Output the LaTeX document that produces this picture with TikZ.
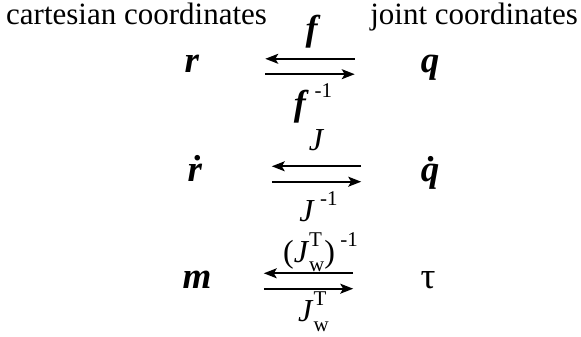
\documentclass[tikz,border=0pt]{standalone}
\usepackage{fontspec}
\setmainfont{Liberation Serif}
\usetikzlibrary{arrows.meta,positioning}

\newcommand{\bsym}[1]{\textbf{\textit{#1}}}
\newcommand{\upidx}[1]{\raisebox{0.5em}{\fontsize{21}{21}\selectfont #1}}
\newcommand{\JwT}{\textit{J}\rlap{\raisebox{0.5em}{\fontsize{21}{21}\selectfont T}}\raisebox{-0.3em}{\fontsize{21}{21}\selectfont w}}

\begin{document}
\begin{tikzpicture}[x=1pt, y=-1pt, >={Stealth[length=13pt,width=10pt,inset=3pt]},
  head/.style={font=\fontsize{31}{33}\selectfont, inner sep=0pt},
  lbl/.style={font=\fontsize{32}{34}\selectfont, inner sep=0pt, anchor=base},
  sym/.style={font=\fontsize{37}{39}\selectfont, anchor=base},
  pair/.style={minimum width=89pt, minimum height=15pt, inner sep=0pt},
  arr/.style={line width=1.7pt}]
  \useasboundingbox (0,0) rectangle (581,337);
  % headings
  \node[head, anchor=base west] (cart) at (6,25) {cartesian coordinates};
  \node[head, anchor=base east] (joint) at (578,25) {joint coordinates};
  % position level
  \node[pair] (p1) at (310,66.5) {};
  \node[sym] (r) at (192,73) {\bsym{r}};
  \node[sym] (q) at (430,73) {\bsym{q}};
  \draw[arr,->] (p1.north east) -- (p1.north west) node[midway,lbl,yshift=18pt,xshift=3pt] (f) {\fontsize{36}{38}\selectfont\bsym{f}};
  \draw[arr,->] (p1.south west) -- (p1.south east) node[midway,lbl,yshift=-41pt,xshift=3pt] (finv) {\fontsize{36}{38}\selectfont\bsym{f}\,\upidx{-1}};
  % velocity level
  \node[pair] (p2) at (316.5,174) {};
  \node[sym] (rd) at (195,181) {\bsym{\.r}};
  \node[sym] (qd) at (433,181) {\bsym{\.q}};
  \draw[arr,->] (p2.north east) -- (p2.north west) node[midway,lbl,yshift=16pt] (J) {\textit{J}};
  \draw[arr,->] (p2.south west) -- (p2.south east) node[midway,lbl,yshift=-40pt,xshift=2pt] (Jinv) {\textit{J}\,\upidx{-1}};
  % force level
  \node[pair] (p3) at (308.5,281) {};
  \node[sym] (m) at (197,288) {\bsym{m}};
  \node[sym] (tau) at (428,288) {τ};
  \draw[arr,->] (p3.north east) -- (p3.north west) node[midway,lbl,yshift=11pt,xshift=12pt] (JTinv) {(\JwT)\,\upidx{-1}};
  \draw[arr,->] (p3.south west) -- (p3.south east) node[midway,lbl,yshift=-33pt,xshift=5pt] (JT) {\JwT};
\end{tikzpicture}
\end{document}
